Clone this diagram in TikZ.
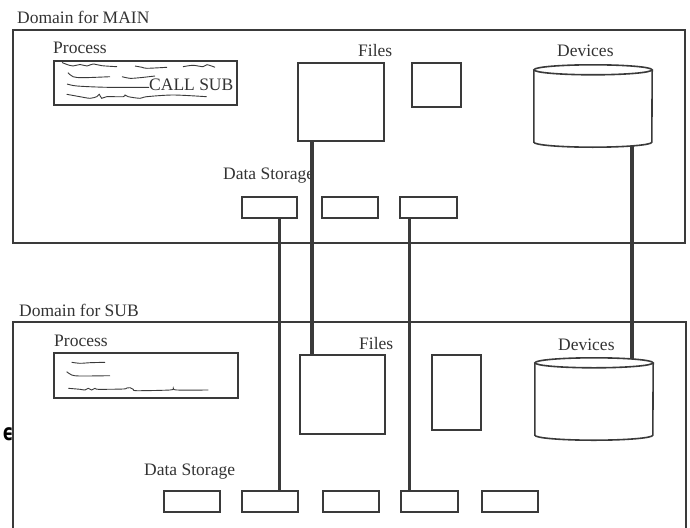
\documentclass[tikz,border=0pt]{standalone}
\usepackage{fontspec}
\setmainfont{Liberation Serif}
\newfontfamily\dejavu{DejaVu Sans}
\definecolor{ln}{HTML}{3A3A3A}
\definecolor{txt}{HTML}{333333}
\begin{document}
\begin{tikzpicture}[x=1pt,y=-1pt,
  lbl/.style={anchor=base west,inner sep=0pt,text=txt,font=\fontsize{17.5}{20}\selectfont},
  dombox/.style={draw=ln,line width=1.8pt,inner sep=0pt,anchor=north west},
  boxn/.style={draw=ln,line width=1.6pt,inner sep=0pt,fill=white,anchor=north west},
  devn/.style={inner sep=0pt,minimum width=118pt,minimum height=72pt},
  link/.style={draw=ln,line width=3.5pt},
  scrib/.style={draw=ln,line width=0.9pt},
]
\useasboundingbox (0,0) rectangle (690,527);

% domains
\node[dombox,minimum width=672pt,minimum height=213pt] (main) at (12,29) {};
\node[dombox,minimum width=673pt,minimum height=230pt] (sub) at (12,321) {};
\node[lbl] (mainlbl) at (17,24) {Domain for MAIN};
\node[lbl] (sublbl) at (19,316.5) {Domain for SUB};

% stray glyph
\node[inner sep=0pt,anchor=base west,text=black,font=\dejavu\bfseries\fontsize{23}{23}\selectfont] (stray) at (2.5,440.5) {\scalebox{0.72}[1]{ϵ}};

% ---------- MAIN ----------
\node[lbl] (tproclbl) at (53,53) {Process};
\node[boxn,minimum width=183pt,minimum height=44pt] (tproc) at (53,60) {};
\node[lbl] (tcall) at (149,90) {CALL SUB};
\draw[scrib] plot[smooth,tension=0.5] coordinates {(62,62.5) (67,64.5) (73,66) (80,64.5) (87,66) (93,64) (102,65.7) (117,66.7)};
\draw[scrib] plot[smooth,tension=0.5] coordinates {(135,66) (142,67.3) (147,68.3) (167,67.3)};
\draw[scrib] plot[smooth,tension=0.5] coordinates {(183,66.7) (193,65.3) (203,66.7) (207,64.7) (215,67.3)};
\draw[scrib] plot[smooth,tension=0.5] coordinates {(68,72.7) (73,76.7) (83,77.7) (110,76.7)};
\draw[scrib] plot[smooth,tension=0.5] coordinates {(122,76.7) (130,78.3) (140,77.7) (155,76)};
\draw[scrib] plot[smooth,tension=0.5] coordinates {(67,84) (77,86) (107,87.3) (149,87.3)};
\draw[scrib] plot[smooth,tension=0.5] coordinates {(66.7,94.3) (80,96.7) (90,98.3) (96.7,96.7) (99.3,94.3) (101.7,98.3) (106.7,96.7) (123.3,96.7) (125,95) (128.3,96.7) (140,98.3) (146.7,96.7) (173.3,95) (206.7,96.7)};

\node[lbl] (tfilelbl) at (358,56.7) {Files};
\node[boxn,minimum width=86pt,minimum height=78pt] (tfile) at (297,62) {};
\node[boxn,minimum width=49pt,minimum height=44pt] (tfile2) at (411,62) {};

\node[lbl] (tdevlbl) at (557,56.7) {Devices};
\node[devn] (tdev) at (593,106) {};
\draw[ln,line width=1.6pt,fill=white] (tdev.north west) -- (tdev.south west) arc[start angle=180,end angle=360,x radius=59pt,y radius=5pt] -- (tdev.north east);
\draw[ln,line width=1.6pt,fill=white] (tdev.north) ellipse[x radius=59pt,y radius=5pt];

\node[lbl] (tdslbl) at (223,179) {Data Storage};
\node[boxn,minimum width=55pt,minimum height=21pt] (tds1) at (241,196) {};
\node[boxn,minimum width=56pt,minimum height=21pt] (tds2) at (321,196) {};
\node[boxn,minimum width=57pt,minimum height=21pt] (tds3) at (399,196) {};

% ---------- SUB ----------
\node[lbl] (bproclbl) at (54,346) {Process};
\node[boxn,minimum width=184pt,minimum height=45pt] (bproc) at (53,352) {};
\draw[scrib] plot[smooth,tension=0.5] coordinates {(71.7,362.3) (80,363.3) (90,362.7) (105,362.3)};
\draw[scrib] plot[smooth,tension=0.5] coordinates {(66.7,371.7) (71.7,375) (80,376) (110,375.7)};
\draw[scrib] plot[smooth,tension=0.5] coordinates {(68.3,388.3) (80,389.3) (85,390) (88.3,388.3) (91.7,390) (95,388.3) (98.3,389.3) (123.3,389) (126.7,388) (130,387.7) (133.3,389.3) (136.7,390.7) (170,390) (173.3,388.3) (176.7,390) (208.3,390)};

\node[lbl] (bfilelbl) at (359,349.3) {Files};
\node[boxn,minimum width=85pt,minimum height=79pt] (bfile) at (299,354) {};
\node[boxn,minimum width=49pt,minimum height=75pt] (bfile2) at (431,354) {};

\node[lbl] (bdevlbl) at (558,350) {Devices};
\node[devn] (bdev) at (594,399) {};
\draw[ln,line width=1.6pt,fill=white] (bdev.north west) -- (bdev.south west) arc[start angle=180,end angle=360,x radius=59pt,y radius=5pt] -- (bdev.north east);
\draw[ln,line width=1.6pt,fill=white] (bdev.north) ellipse[x radius=59pt,y radius=5pt];

\node[lbl] (bdslbl) at (144,475.7) {Data Storage};
\node[boxn,minimum width=56pt,minimum height=21pt] (bds1) at (163,490) {};
\node[boxn,minimum width=56pt,minimum height=21pt] (bds2) at (241,490) {};
\node[boxn,minimum width=56pt,minimum height=21pt] (bds3) at (322,490) {};
\node[boxn,minimum width=57pt,minimum height=21pt] (bds4) at (400,490) {};
\node[boxn,minimum width=56pt,minimum height=21pt] (bds5) at (481,490) {};

% ---------- links ----------
\draw[link] ([xshift=10pt]tds1.south) -- ([xshift=10pt]tds1.south |- bds2.north);
\draw[link] ([xshift=-29pt]tfile.south) -- ([xshift=-29pt]tfile.south |- bfile.north);
\draw[link] ([xshift=-19pt]tds3.south) -- ([xshift=-19pt]tds3.south |- bds4.north);
\draw[link] ([xshift=39pt,yshift=-3.7pt]tdev.south) -- ([xshift=39pt,yshift=3.7pt]tdev.south |- bdev.north);
\end{tikzpicture}
\end{document}
